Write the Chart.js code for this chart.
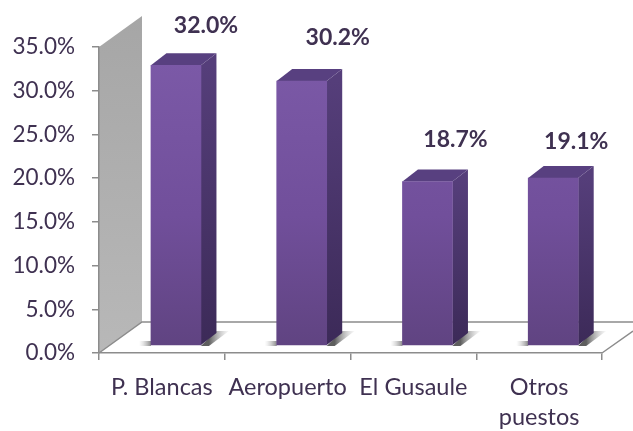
<!DOCTYPE html>
<html>
<head>
<meta charset="utf-8">
<style>html,body{margin:0;padding:0;background:#fff}canvas{display:block}</style>
<script src="https://cdn.jsdelivr.net/npm/chart.js@4/dist/chart.umd.min.js"></script>
</head>
<body>
<canvas id="c" width="633" height="431"></canvas>
<script>
const categories = ['P. Blancas', 'Aeropuerto', 'El Gusaule', ['Otros', 'puestos']];
const shares = [32.0, 30.2, 18.7, 19.1];
const labelShift = [[30, -40], [36, -43], [28, -42], [23, -36]];

const textColor = '#3f3151';
const axisColor = '#8c8c8c';
const fontFamily = 'Lato, "Open Sans", sans-serif';
const wallDepth = [43, -31];
const barDepth = [15.5, -12];

const scene = {
  id: 'scene',
  beforeDraw(chart) {
    const { ctx, scales: { x, y } } = chart;
    const l = x.left, r = x.right, b = y.getPixelForValue(0), t = y.getPixelForValue(35);
    const [dx, dy] = wallDepth;
    ctx.save();
    const g = ctx.createLinearGradient(0, t + dy, 0, b);
    g.addColorStop(0, '#a6a6a6');
    g.addColorStop(1, '#b8b8b8');
    ctx.fillStyle = g;
    ctx.beginPath();
    ctx.moveTo(l, t); ctx.lineTo(l + dx, t + dy); ctx.lineTo(l + dx, b + dy); ctx.lineTo(l, b);
    ctx.closePath(); ctx.fill();
    ctx.strokeStyle = axisColor;
    ctx.lineWidth = 1.5;
    ctx.beginPath();
    ctx.moveTo(l, b); ctx.lineTo(l + dx, b + dy); ctx.lineTo(633, b + dy);
    ctx.moveTo(r, b); ctx.lineTo(633, b - 22);
    ctx.stroke();
    ctx.restore();
  },
  beforeDatasetsDraw(chart) {
    const { ctx } = chart;
    const [dx, dy] = barDepth;
    ctx.save();
    chart.getDatasetMeta(0).data.forEach(el => {
      const xl = el.x - el.width / 2, xr = el.x + el.width / 2, top = el.y, base = el.base;
      const sh = ctx.createLinearGradient(xr + 8, 0, xr + 28, 0);
      sh.addColorStop(0, '#5e5e5e');
      sh.addColorStop(1, 'rgba(190,190,190,0.1)');
      ctx.fillStyle = sh;
      ctx.beginPath();
      ctx.moveTo(xr, base + 1); ctx.lineTo(xr + 15, base - 14); ctx.lineTo(xr + 28, base - 14);
      ctx.lineTo(xr + 8, base + 1); ctx.closePath(); ctx.fill();
      const sl = ctx.createLinearGradient(xl - 12, 0, xl, 0);
      sl.addColorStop(0, 'rgba(200,200,200,0)');
      sl.addColorStop(1, '#8a8a8a');
      ctx.fillStyle = sl;
      ctx.fillRect(xl - 12, base - 4, 12, 5);

      const side = ctx.createLinearGradient(0, top, 0, base);
      side.addColorStop(0, '#553e7a');
      side.addColorStop(1, '#3c2a58');
      ctx.fillStyle = side;
      ctx.beginPath();
      ctx.moveTo(xr, top); ctx.lineTo(xr + dx, top + dy); ctx.lineTo(xr + dx, base + dy); ctx.lineTo(xr, base);
      ctx.closePath(); ctx.fill();

      ctx.fillStyle = '#584080';
      ctx.beginPath();
      ctx.moveTo(xl, top); ctx.lineTo(xl + dx, top + dy); ctx.lineTo(xr + dx, top + dy); ctx.lineTo(xr, top);
      ctx.closePath(); ctx.fill();
    });
    ctx.restore();
  },
  afterDatasetsDraw(chart) {
    const { ctx } = chart;
    ctx.save();
    ctx.fillStyle = textColor;
    ctx.font = 'bold 23px ' + fontFamily;
    ctx.textAlign = 'center';
    ctx.textBaseline = 'middle';
    chart.getDatasetMeta(0).data.forEach((el, i) => {
      ctx.fillText(shares[i].toFixed(1) + '%', el.x + labelShift[i][0], el.y + labelShift[i][1]);
    });
    ctx.restore();
  }
};

new Chart(document.getElementById('c'), {
  type: 'bar',
  data: {
    labels: categories,
    datasets: [{
      data: shares.map((v, i) => ({ x: i, y: v })),
      xAxisID: 'xBar',
      yAxisID: 'yBar',
      barThickness: 50,
      borderWidth: 0,
      clip: false,
      backgroundColor(c) {
        const a = c.chart.chartArea;
        if (!a) return '#6f4f99';
        const g = c.chart.ctx.createLinearGradient(0, a.top, 0, a.bottom);
        g.addColorStop(0, '#7c5aa8');
        g.addColorStop(0.55, '#714f9b');
        g.addColorStop(1, '#5f4380');
        return g;
      }
    }]
  },
  options: {
    responsive: false,
    animation: false,
    layout: { padding: { top: 47, right: 31, left: 0, bottom: 0 } },
    plugins: { legend: { display: false }, tooltip: { enabled: false } },
    scales: {
      x: {
        type: 'category',
        position: 'bottom',
        offset: true,
        afterFit(s) { s.height = 78; },
        border: { color: axisColor, width: 1.5 },
        grid: { offset: true, drawOnChartArea: false, color: axisColor, tickLength: 7, lineWidth: 1.5 },
        ticks: { color: textColor, font: { family: fontFamily, size: 23.5, lineHeight: 1.28 }, padding: 12, maxRotation: 0, autoSkip: false }
      },
      y: {
        type: 'linear',
        position: 'left',
        min: 0,
        max: 35,
        afterFit(s) { s.width = 99; },
        border: { color: axisColor, width: 1.5 },
        grid: { drawOnChartArea: false, color: axisColor, tickLength: 7, lineWidth: 1.5 },
        ticks: { stepSize: 5, color: textColor, font: { family: fontFamily, size: 22.5 }, padding: 17, callback: v => v.toFixed(1) + '%' }
      },
      xBar: { type: 'linear', display: false, offset: false, min: -0.612, max: 3.388 },
      yBar: { type: 'linear', display: false, min: -0.915, max: 34.085 }
    }
  },
  plugins: [scene]
});
</script>
</body>
</html>
